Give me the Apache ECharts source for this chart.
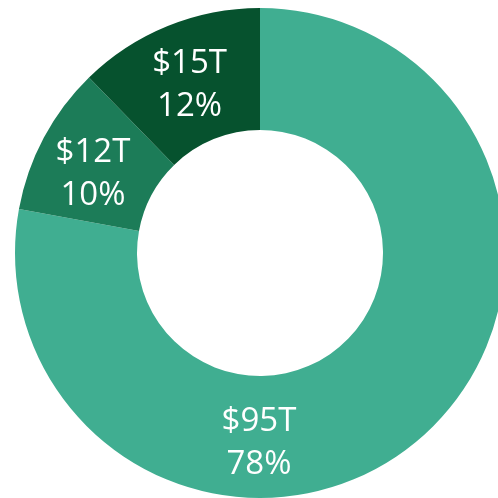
<!DOCTYPE html>
<html>
<head>
<meta charset="utf-8">
<script src="https://cdn.jsdelivr.net/npm/echarts@6/dist/echarts.min.js"></script>
<style>
html,body{margin:0;padding:0;background:#fff;}
#chart{width:498px;height:498px;}
</style>
</head>
<body>
<div id="chart"></div>
<script>
const categories = ['A', 'B', 'C'];
const values = [95, 12, 15];
const colors = ['#40AE91', '#1C7C58', '#06522E'];

const cx = 260, cy = 253, rOuter = 245, rInner = 123;

const chart = echarts.init(document.getElementById('chart'), null, {renderer: 'canvas'});
chart.setOption({
  animation: false,
  backgroundColor: '#ffffff',
  series: [{
    type: 'pie',
    center: [cx, cy],
    radius: [rInner, rOuter],
    startAngle: 90,
    clockwise: true,
    percentPrecision: 0,
    avoidLabelOverlap: false,
    silent: true,
    data: categories.map((c, i) => ({name: c, value: values[i], itemStyle: {color: colors[i]}})),
    itemStyle: {borderWidth: 0},
    label: {
      show: true,
      position: 'inside',
      formatter: p => '$' + p.value + 'T\n' + p.percent + '%',
      color: '#ffffff',
      fontFamily: 'Open Sans',
      fontSize: 33,
      lineHeight: 43,
      align: 'center'
    },
    labelLine: {show: false},
    labelLayout: function (params) {
      if (params.dataIndex === 0) {
        return {x: cx - 1, y: cy + (rOuter + rInner) / 2 + 6, align: 'center', verticalAlign: 'middle'};
      }
      if (params.dataIndex === 1) {
        return {dx: -2, dy: 9};
      }
      return {dy: 5};
    }
  }]
});
</script>
</body>
</html>
